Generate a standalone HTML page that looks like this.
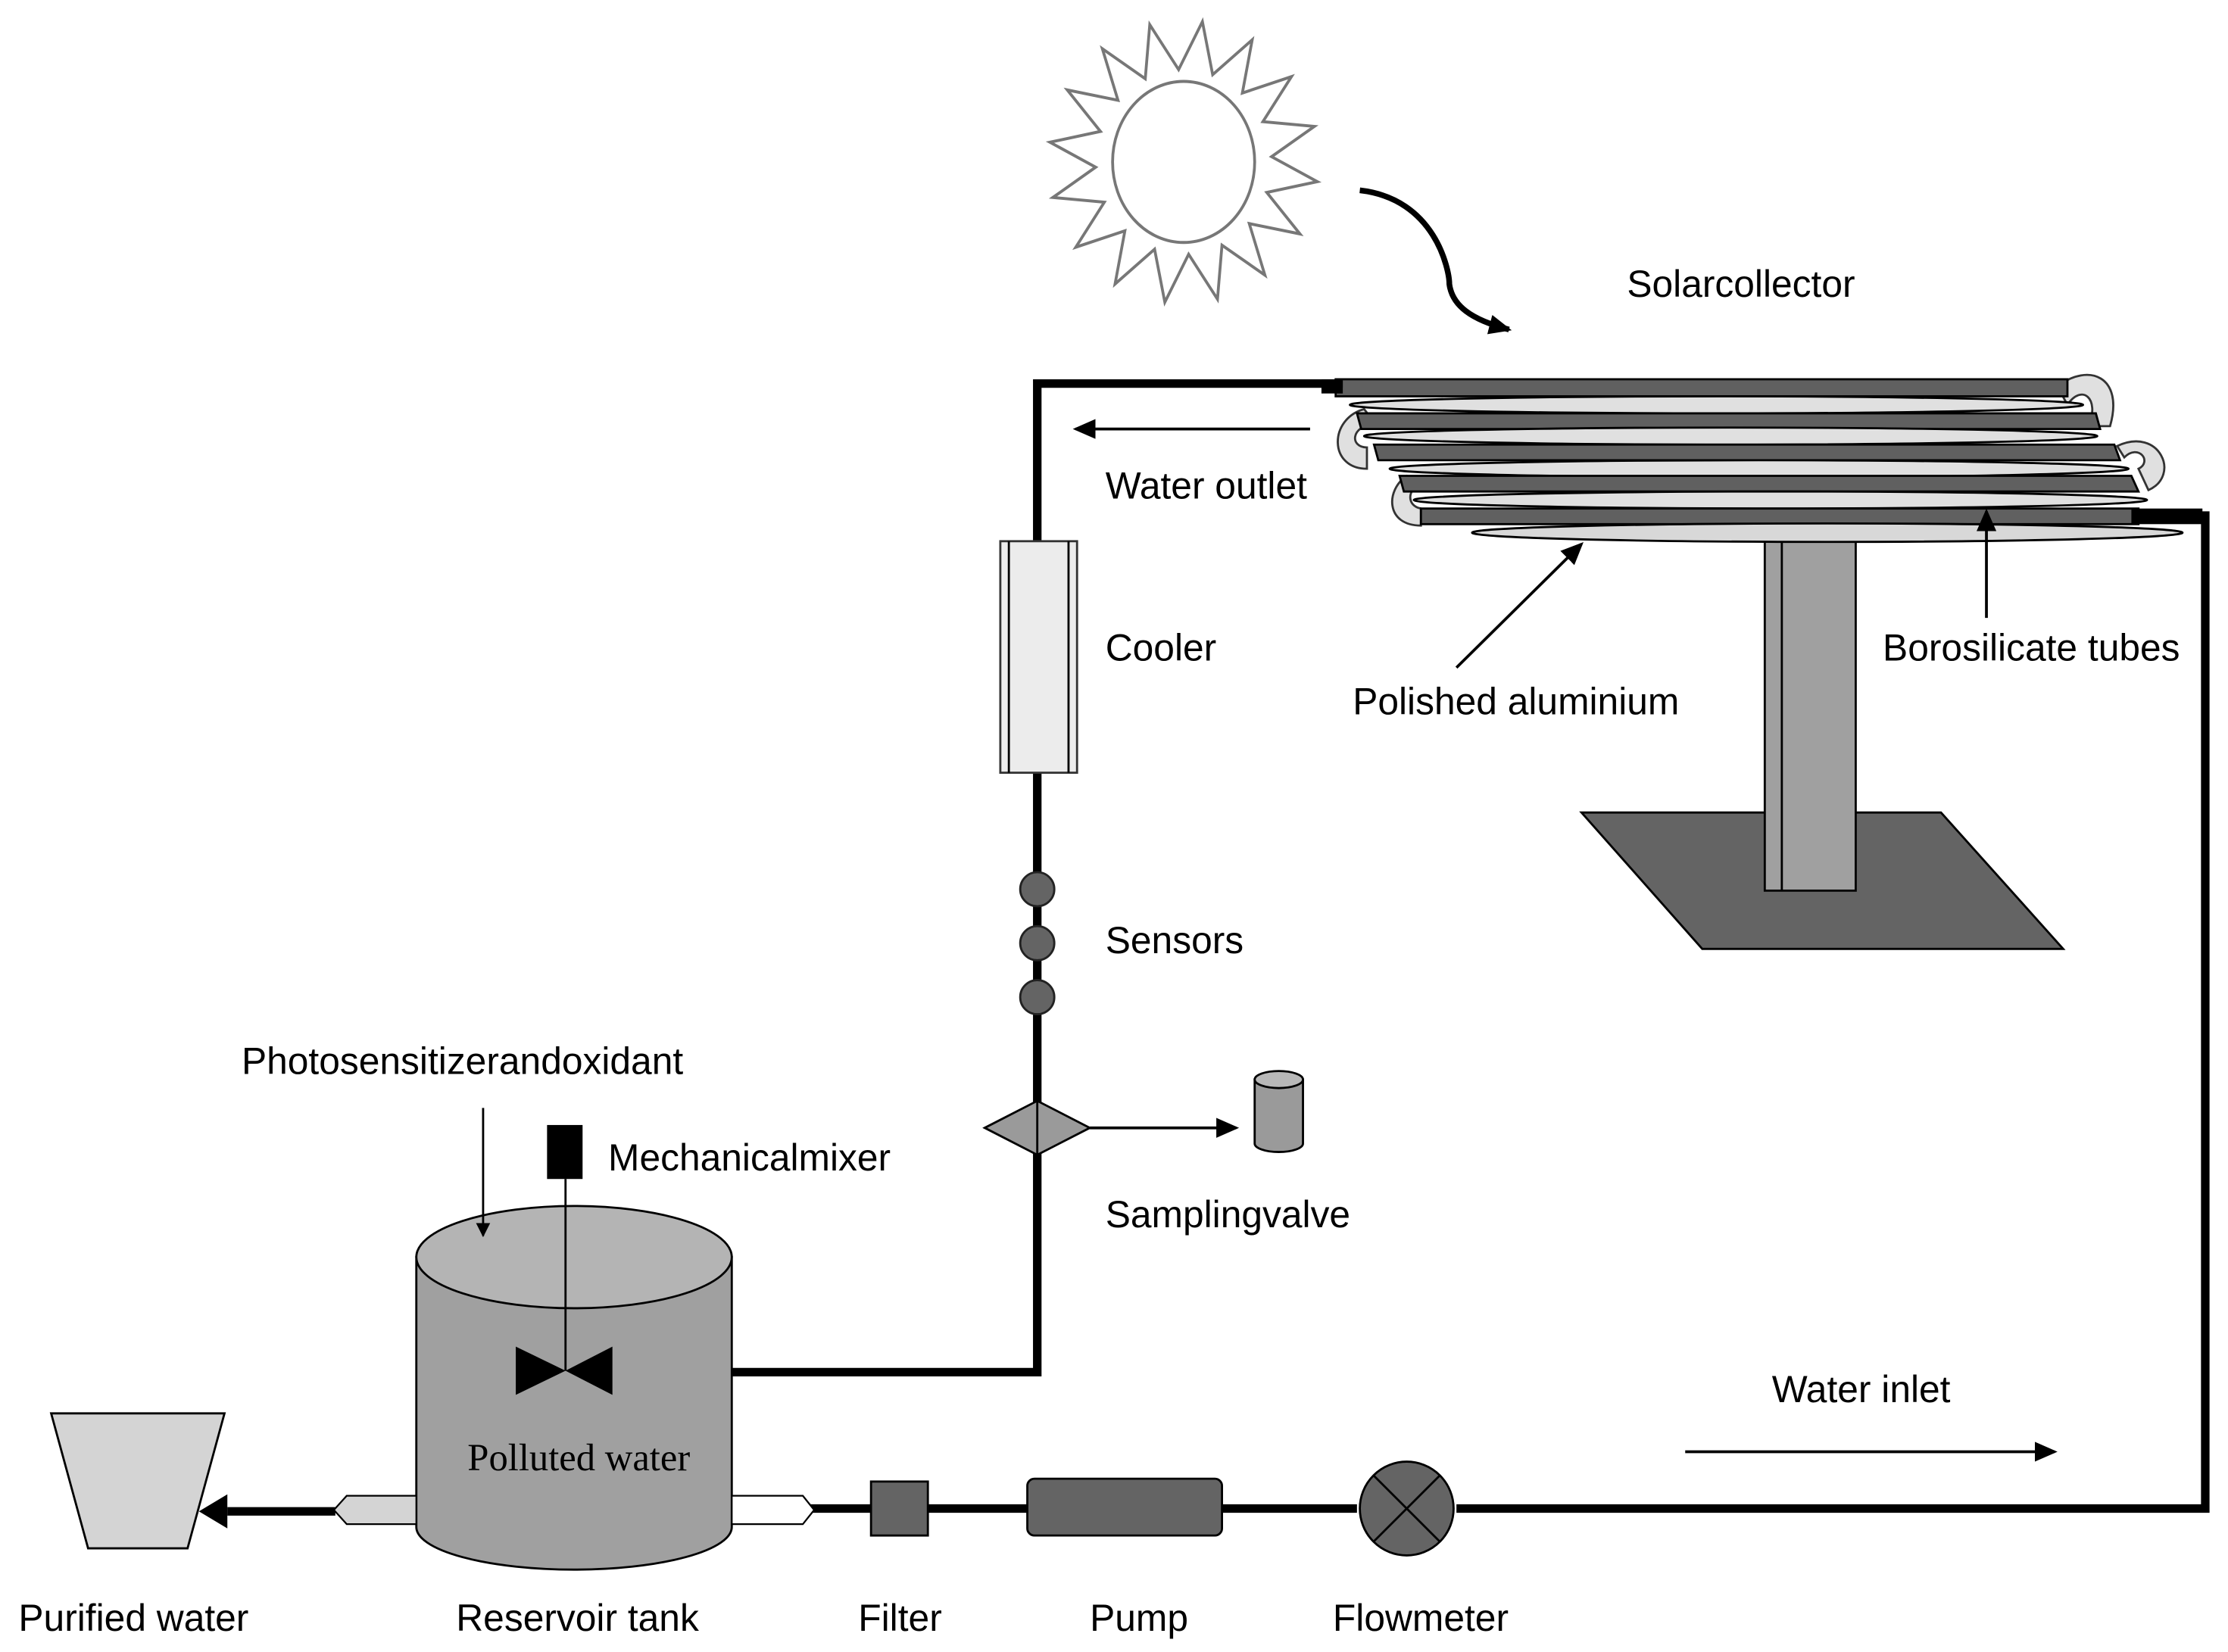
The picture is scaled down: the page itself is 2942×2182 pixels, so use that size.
<!DOCTYPE html>
<html><head><meta charset="utf-8"><style>html,body{margin:0;padding:0;background:#fff}svg{display:block}</style></head>
<body>
<svg width="2942" height="2182" viewBox="0 0 1568 1163" preserveAspectRatio="none" xmlns="http://www.w3.org/2000/svg" font-family="Liberation Sans, sans-serif" font-size="26.5">
<defs>
<marker id="ah" markerWidth="10" markerHeight="10" refX="9" refY="5" orient="auto" markerUnits="userSpaceOnUse"><path d="M0,0 L10,5 L0,10 z" fill="#000"/></marker>
<marker id="ah2" markerWidth="16" markerHeight="14" refX="14" refY="7" orient="auto" markerUnits="userSpaceOnUse"><path d="M0,0 L16,7 L0,14 z" fill="#000"/></marker>
</defs>
<!-- sun -->
<g transform="translate(833,114) scale(1,1.05)" fill="none" stroke="#777" stroke-width="2">
<polygon points="95,0 60.8,12.1 87.8,36.4 51.5,34.5 67.2,67.2 34.5,51.5 36.4,87.8 12.1,60.8 0,95 -12.1,60.8 -36.4,87.8 -34.5,51.5 -67.2,67.2 -51.5,34.5 -87.8,36.4 -60.8,12.1 -95,0 -60.8,-12.1 -87.8,-36.4 -51.5,-34.5 -67.2,-67.2 -34.5,-51.5 -36.4,-87.8 -12.1,-60.8 0,-95 12.1,-60.8 36.4,-87.8 34.5,-51.5 67.2,-67.2 51.5,-34.5 87.8,-36.4 60.8,-12.1" transform="rotate(8)"/>
<ellipse cx="0" cy="0" rx="50" ry="54"/>
</g>
<path d="M957,134 C1010,140 1020,190 1020,200 C1022,215 1035,225 1062,232" fill="none" stroke="#000" stroke-width="4" marker-end="url(#ah2)"/>
<text x="1145" y="209">Solarcollector</text>
<!-- stand -->
<polygon points="1113,572 1366,572 1452,668 1198,668" fill="#646464" stroke="#000" stroke-width="1.5"/>
<rect x="1242" y="380" width="64" height="247" fill="#a0a0a0" stroke="#000" stroke-width="1.5"/>
<line x1="1254" y1="380" x2="1254" y2="627" stroke="#000" stroke-width="1.5"/>
<!-- hooks -->
<g fill="#e0e0e0" stroke="#333" stroke-width="1.5">
<path d="M1448,272 C1470,255 1495,265 1485,300 L1470,300 C1478,280 1465,270 1455,285 z"/>
<path d="M960,288 C935,295 935,330 962,330 L962,315 C950,315 950,300 968,298 z"/>
<path d="M1490,314 C1520,300 1535,335 1512,345 L1505,330 C1515,325 1505,312 1495,322 z"/>
<path d="M990,335 C975,345 975,370 1000,370 L1000,358 C990,356 990,345 1000,340 z"/>
</g>
<!-- tubes and reflectors -->
<g stroke="#000" stroke-width="1.5">
<rect x="940" y="267" width="515" height="12" fill="#606060"/>
<ellipse cx="1208" cy="285" rx="258" ry="6" fill="#e0e0e0"/>
<polygon points="955,291 1475,291 1478,302 958,302" fill="#606060"/>
<ellipse cx="1218" cy="307" rx="258" ry="6" fill="#e0e0e0"/>
<polygon points="967,313 1488,313 1492,324 970,324" fill="#606060"/>
<ellipse cx="1238" cy="330" rx="260" ry="6" fill="#e0e0e0"/>
<polygon points="985,335 1500,335 1505,346 988,346" fill="#606060"/>
<ellipse cx="1253" cy="352" rx="258" ry="6" fill="#e0e0e0"/>
<rect x="1000" y="358" width="505" height="11" fill="#606060"/>
<ellipse cx="1286" cy="375" rx="250" ry="6.5" fill="#d8d8d8"/>
</g>
<!-- pipes -->
<g fill="none" stroke="#000" stroke-width="6">
<polyline points="515,966 730,966 730,270 945,270"/>
<polyline points="1505,363 1552,363 1552,1062 1025,1062"/>
<line x1="955" y1="1062" x2="860" y2="1062"/>
<line x1="723" y1="1062" x2="653" y2="1062"/>
<line x1="613" y1="1062" x2="570" y2="1062"/>
<line x1="236" y1="1064" x2="160" y2="1064"/>
</g>
<rect x="1500" y="358" width="50" height="11" fill="#000"/>
<rect x="930" y="267" width="15" height="10" fill="#000"/>
<!-- arrow labels -->
<line x1="922" y1="302" x2="757" y2="302" stroke="#000" stroke-width="2" marker-end="url(#ah2)"/>
<text x="778" y="351">Water outlet</text>
<line x1="1025" y1="470" x2="1113" y2="383" stroke="#000" stroke-width="2" marker-end="url(#ah2)"/>
<text x="952" y="503">Polished aluminium</text>
<line x1="1398" y1="435" x2="1398" y2="360" stroke="#000" stroke-width="2" marker-end="url(#ah2)"/>
<text x="1325" y="465">Borosilicate tubes</text>
<!-- cooler -->
<rect x="704" y="381" width="54" height="163" fill="#ececec" stroke="#333" stroke-width="1.5"/>
<line x1="710" y1="381" x2="710" y2="544" stroke="#000" stroke-width="1.5"/>
<line x1="752" y1="381" x2="752" y2="544" stroke="#000" stroke-width="1.5"/>
<text x="778" y="465">Cooler</text>
<!-- sensors -->
<g fill="#646464" stroke="#222" stroke-width="1.5">
<circle cx="730" cy="626" r="12"/><circle cx="730" cy="664" r="12"/><circle cx="730" cy="702" r="12"/>
</g>
<text x="778" y="671">Sensors</text>
<!-- sampling valve -->
<polygon points="693,794 730,775 767,794 730,813" fill="#9a9a9a" stroke="#000" stroke-width="1.5"/>
<line x1="730" y1="775" x2="730" y2="813" stroke="#000" stroke-width="1.5"/>
<line x1="767" y1="794" x2="870" y2="794" stroke="#000" stroke-width="2" marker-end="url(#ah2)"/>
<path d="M883,760 L883,805 A17,6 0 0 0 917,805 L917,760 z" fill="#9a9a9a" stroke="#000" stroke-width="1.5"/>
<ellipse cx="900" cy="760" rx="17" ry="6" fill="#b8b8b8" stroke="#000" stroke-width="1.5"/>
<text x="778" y="864">Samplingvalve</text>
<!-- tank -->
<path d="M293,885 L293,1075 A111,30 0 0 0 515,1075 L515,885 z" fill="#a0a0a0" stroke="#000" stroke-width="1.5"/>
<ellipse cx="404" cy="885" rx="111" ry="36" fill="#b4b4b4" stroke="#000" stroke-width="1.5"/>
<rect x="385" y="792" width="25" height="38" fill="#000"/>
<line x1="398" y1="830" x2="398" y2="965" stroke="#000" stroke-width="1.5"/>
<polygon points="363,948 398,965 363,982" fill="#000"/>
<polygon points="431,948 398,965 431,982" fill="#000"/>
<line x1="340" y1="780" x2="340" y2="870" stroke="#000" stroke-width="1.5" marker-end="url(#ah)"/>
<text x="170" y="756">Photosensitizerandoxidant</text>
<text x="428" y="824">Mechanicalmixer</text>
<text x="329" y="1035" font-family="Liberation Serif, serif" font-size="27">Polluted water</text>
<!-- nozzles -->
<polygon points="293,1053 244,1053 235,1063 244,1073 293,1073" fill="#d4d4d4" stroke="#000" stroke-width="1.2"/>
<polygon points="515,1053 565,1053 573,1063 565,1073 515,1073" fill="#fff" stroke="#000" stroke-width="1.2"/>
<polygon points="160,1052 140,1064 160,1076" fill="#000"/>
<!-- purified water bucket -->
<polygon points="36,995 158,995 132,1090 62,1090" fill="#d4d4d4" stroke="#000" stroke-width="1.5"/>
<!-- filter, pump, flowmeter -->
<rect x="613" y="1043" width="40" height="38" fill="#646464" stroke="#000" stroke-width="1.5"/>
<rect x="723" y="1041" width="137" height="40" rx="5" fill="#646464" stroke="#000" stroke-width="1.5"/>
<circle cx="990" cy="1062" r="33" fill="#646464" stroke="#000" stroke-width="1.5"/>
<line x1="967" y1="1039" x2="1013" y2="1085" stroke="#000" stroke-width="1.5"/>
<line x1="1013" y1="1039" x2="967" y2="1085" stroke="#000" stroke-width="1.5"/>
<text x="1247" y="987">Water inlet</text>
<line x1="1186" y1="1022" x2="1446" y2="1022" stroke="#000" stroke-width="2" marker-end="url(#ah2)"/>
<!-- bottom labels -->
<text x="13" y="1148">Purified water</text>
<text x="321" y="1148">Reservoir tank</text>
<text x="604" y="1148">Filter</text>
<text x="767" y="1148">Pump</text>
<text x="938" y="1148">Flowmeter</text>
</svg>
</body></html>
